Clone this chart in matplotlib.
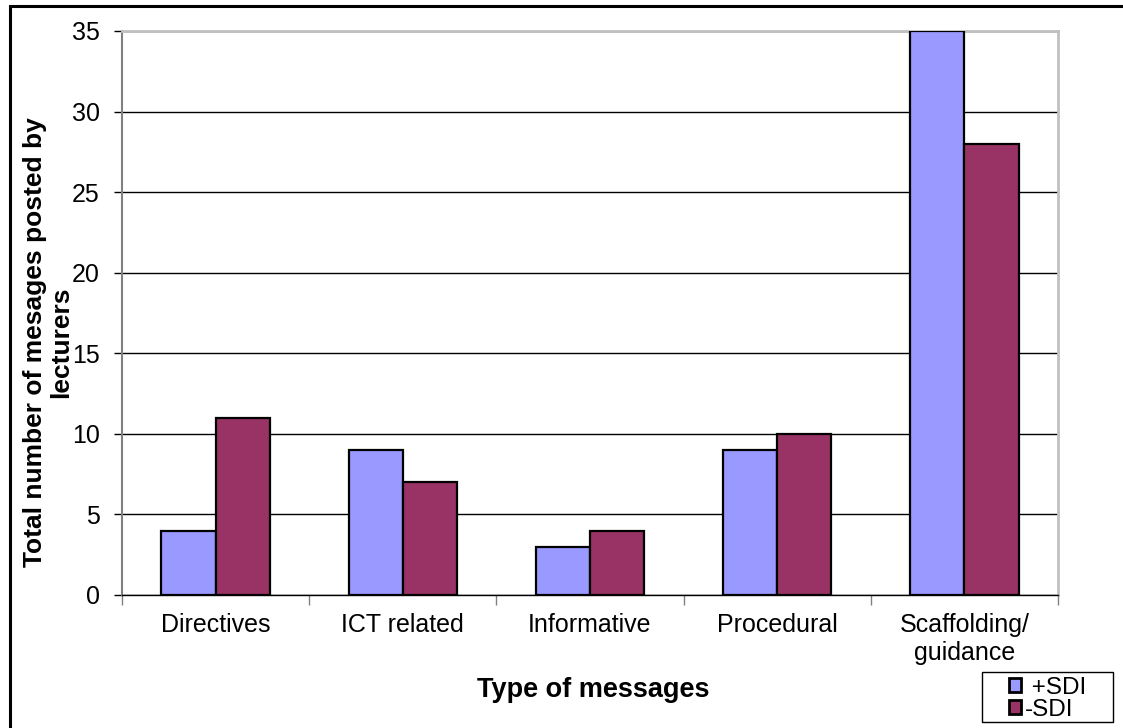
import matplotlib
matplotlib.use("Agg")
import matplotlib.pyplot as plt
import numpy as np
from matplotlib.patches import Rectangle

plt.rcParams["font.family"] = ["Liberation Sans", "DejaVu Sans"]

categories = ["Directives", "ICT related", "Informative", "Procedural", "Scaffolding/\nguidance"]
plus_sdi = [4, 9, 3, 9, 35]
minus_sdi = [11, 7, 4, 10, 28]

W, H = 1123, 728
fig = plt.figure(figsize=(W / 100, H / 100), dpi=100)
ax = fig.add_axes([122 / W, 1 - 595 / H, (1058 - 122) / W, (595 - 31) / H])

# outer chart frame (runs off right and bottom edges)
fig.patches.append(Rectangle((10 / W, -0.05), 1.2, 1 - 6 / H + 0.05,
                             transform=fig.transFigure, fill=False,
                             edgecolor="black", linewidth=2.2, zorder=0))

x = np.arange(len(categories))
w = 0.29
ax.bar(x - w / 2, plus_sdi, w, color="#9999FF", edgecolor="black", linewidth=1.6,
       label=" +SDI", zorder=3)
ax.bar(x + w / 2, minus_sdi, w, color="#993366", edgecolor="black", linewidth=1.6,
       label="-SDI", zorder=3)

ax.set_xlim(-0.5, len(categories) - 0.5)
ax.set_ylim(0, 35)
ax.set_yticks(range(0, 36, 5))
ax.yaxis.grid(True, color="black", linewidth=1.0, zorder=0)
ax.set_axisbelow(True)

# category boundaries get the tick marks, names sit between them
ax.set_xticks(np.arange(-0.5, len(categories)))
ax.set_xticklabels([])
ax.set_xticks(x, minor=True)
ax.set_xticklabels(categories, minor=True, fontsize=18)
ax.tick_params(axis="x", which="major", length=7, width=1, color="#808080", direction="out")
ax.tick_params(axis="x", which="minor", length=0, pad=13)
ax.tick_params(axis="y", length=6, width=1, color="black", labelsize=18, pad=10)

for side in ("top", "right"):
    ax.spines[side].set_color("#c0c0c0")
    ax.spines[side].set_linewidth(2)
ax.spines["left"].set_color("#808080")
ax.spines["left"].set_linewidth(1.5)
ax.spines["bottom"].set_color("black")
ax.spines["bottom"].set_linewidth(1)

fig.text(48 / W, 1 - 342 / H, "Total number of mesages posted by\nlecturers",
         rotation=90, ha="center", va="center", fontsize=19, fontweight="bold",
         linespacing=1.12)
fig.text(593 / W, 1 - 690 / H, "Type of messages", ha="center", va="center",
         fontsize=19.5, fontweight="bold")

# legend box drawn separately so it can be wider than its contents
fig.patches.append(Rectangle((982 / W, 6 / H), (1113 - 982) / W, 50 / H,
                             transform=fig.transFigure, fill=True, facecolor="white",
                             edgecolor="black", linewidth=1, zorder=4))
leg = fig.legend(loc="lower left", bbox_to_anchor=(1008 / W, 6 / H),
                 fontsize=17.5, frameon=False,
                 handlelength=0.5, handleheight=0.5, handletextpad=0.15,
                 borderpad=0.05, borderaxespad=0, labelspacing=0.0)
leg.set_zorder(5)
for h in leg.legend_handles:
    h.set_linewidth(2)

fig.savefig("out.png", dpi=100)
